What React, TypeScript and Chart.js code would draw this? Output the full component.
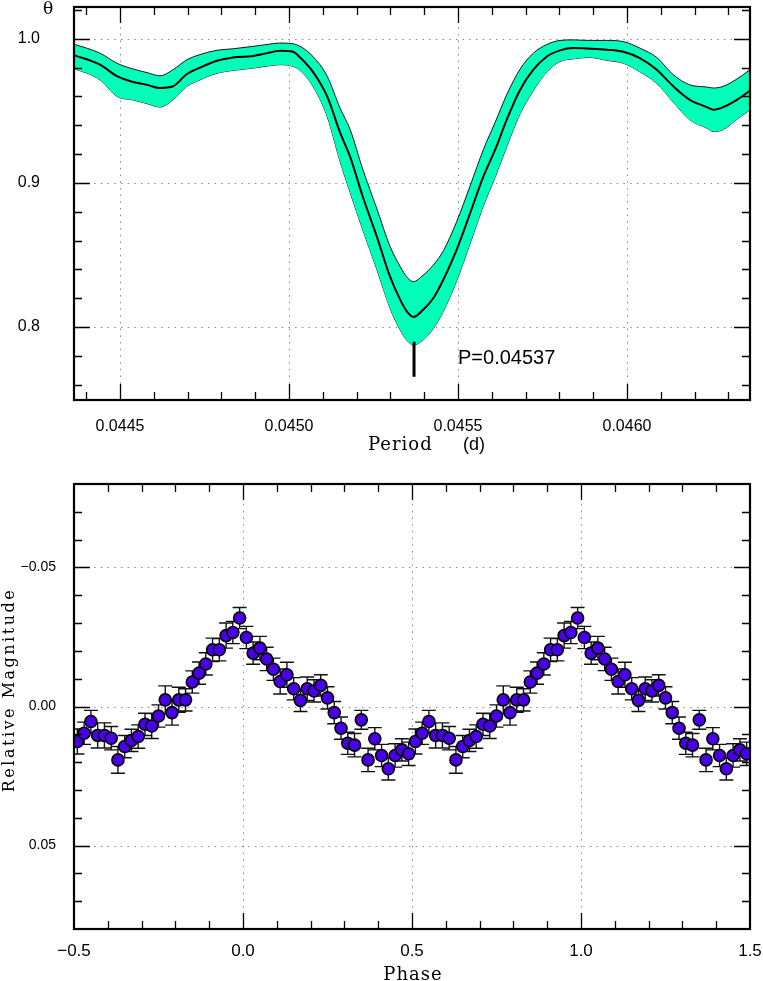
import React, { useEffect, useRef } from 'react';
import { Chart, registerables } from 'chart.js';

Chart.register(...registerables);

// ---------- Top panel: theta periodogram ----------
const periods = [
  0.04436, 0.044441, 0.044491, 0.044539, 0.04458, 0.044618, 0.044657, 0.044698, 0.044737, 0.044787,
  0.044834, 0.044894, 0.044935, 0.044973, 0.045012, 0.045033, 0.045071, 0.045113, 0.045151, 0.045181,
  0.045219, 0.04526, 0.045299, 0.045329, 0.045348, 0.045368, 0.045397, 0.045427, 0.045457, 0.045496,
  0.045536, 0.045575, 0.04561, 0.045644, 0.045684, 0.045723, 0.045763, 0.045802, 0.045841, 0.04589,
  0.04594, 0.045989, 0.046038, 0.046088, 0.046137, 0.046186, 0.046236, 0.046255, 0.046285, 0.046325,
  0.046364,
];
const thetaMid = [
  0.9889, 0.982, 0.974, 0.97, 0.968, 0.9658, 0.967, 0.9755, 0.98, 0.9847,
  0.987, 0.988, 0.99, 0.9917, 0.991, 0.987, 0.977, 0.96, 0.935, 0.918,
  0.89, 0.8627, 0.835, 0.819, 0.811, 0.807, 0.812, 0.82, 0.833, 0.8535,
  0.879, 0.9044, 0.923, 0.9437, 0.9646, 0.9785, 0.9877, 0.9919, 0.9935, 0.9931,
  0.9924, 0.991, 0.9866, 0.9785, 0.967, 0.9576, 0.9526, 0.9507, 0.9526, 0.9576,
  0.964,
];
const thetaUpper = [
  0.9965, 0.99, 0.983, 0.979, 0.9765, 0.9743, 0.9785, 0.9854, 0.989, 0.992,
  0.993, 0.9947, 0.996, 0.997, 0.9965, 0.9947, 0.9877, 0.974, 0.952, 0.937,
  0.909, 0.882, 0.856, 0.842, 0.835, 0.8315, 0.836, 0.843, 0.853, 0.873,
  0.898, 0.923, 0.942, 0.961, 0.979, 0.99, 0.996, 0.9988, 0.9992, 0.9988,
  0.9988, 0.998, 0.9935, 0.987, 0.975, 0.968, 0.9665, 0.9658, 0.967, 0.972,
  0.9785,
];
const thetaLower = [
  0.9797, 0.9715, 0.96, 0.9575, 0.955, 0.9526, 0.9576, 0.9669, 0.9715, 0.976,
  0.978, 0.9796, 0.981, 0.982, 0.9808, 0.978, 0.967, 0.946, 0.915, 0.8933,
  0.867, 0.84, 0.813, 0.798, 0.791, 0.7875, 0.791, 0.799, 0.811, 0.832,
  0.858, 0.884, 0.904, 0.925, 0.948, 0.964, 0.977, 0.9842, 0.986, 0.987,
  0.985, 0.983, 0.977, 0.969, 0.956, 0.9437, 0.938, 0.9356, 0.937, 0.944,
  0.9507,
];
const periodTicks = [0.0445, 0.045, 0.0455, 0.046];
const periodTickLabels = ['0.0445', '0.0450', '0.0455', '0.0460'];
const thetaTicks = [0.8, 0.9, 1.0];
const thetaTickLabels = ['0.8', '0.9', '1.0'];
const bestPeriod = 0.04537;
const bestPeriodLabel = 'P=0.04537';
const markerTheta = [0.7655, 0.7898];
const labelTheta = 0.7785;

// ---------- Bottom panel: phase-folded light curve ----------
const phases = [
  -0.49, -0.47, -0.45, -0.43, -0.41, -0.39, -0.37, -0.35, -0.33, -0.31,
  -0.29, -0.27, -0.25, -0.23, -0.21, -0.19, -0.17, -0.15, -0.13, -0.11,
  -0.09, -0.07, -0.05, -0.03, -0.01, 0.01, 0.03, 0.05, 0.07, 0.09,
  0.11, 0.13, 0.15, 0.17, 0.19, 0.21, 0.23, 0.25, 0.27, 0.29,
  0.31, 0.33, 0.35, 0.37, 0.39, 0.41, 0.43, 0.45, 0.47, 0.49,
];
const mags = [
  0.0126, 0.0096, 0.0054, 0.0104, 0.0104, 0.0114, 0.0192, 0.0144, 0.0122, 0.0108,
  0.0064, 0.007, 0.0034, -0.0024, 0.0022, -0.0024, -0.0024, -0.0088, -0.012, -0.0153,
  -0.0204, -0.0204, -0.0255, -0.0266, -0.0318, -0.0248, -0.0192, -0.021, -0.0171, -0.0134,
  -0.009, -0.0114, -0.0064, -0.0022, -0.0064, -0.0056, -0.0076, -0.0031, 0.0022, 0.0078,
  0.0132, 0.0139, 0.0048, 0.0192, 0.0116, 0.0176, 0.0224, 0.0176, 0.0156, 0.017,
];
const magErrors = [
  0.0045, 0.004, 0.004, 0.0045, 0.0045, 0.0042, 0.0048, 0.004, 0.004, 0.0042,
  0.004, 0.0045, 0.004, 0.005, 0.0045, 0.0045, 0.004, 0.004, 0.004, 0.004,
  0.0042, 0.004, 0.0045, 0.004, 0.0038, 0.004, 0.004, 0.0042, 0.0042, 0.004,
  0.0045, 0.0045, 0.004, 0.004, 0.0042, 0.004, 0.0038, 0.004, 0.004, 0.004,
  0.004, 0.0042, 0.0034, 0.0042, 0.004, 0.004, 0.004, 0.0042, 0.004, 0.0042,
];
const phaseTicks = [-0.5, 0, 0.5, 1.0, 1.5];
const phaseTickLabels = ['\u22120.5', '0.0', '0.5', '1.0', '1.5'];
const magTicks = [-0.05, 0, 0.05];
const magTickLabels = ['\u22120.05', '0.00', '0.05'];

const SANS = "'Liberation Sans', Arial, Helvetica, sans-serif";
const SERIF = "'DejaVu Serif', 'Liberation Serif', serif";
const BAND = '#00ffb8';
const DOT = '#4a00e6';

function range(k0: number, k1: number, div: number) {
  const out: number[] = [];
  for (let k = k0; k <= k1; k++) out.push(k / div);
  return out;
}
const near = (v: number, arr: number[]) => arr.some((a) => Math.abs(a - v) < 1e-9);

function drawGrid(chart: any, xMajor: number[], yMajor: number[]) {
  const ctx = chart.ctx;
  const { left, right, top, bottom } = chart.chartArea;
  const xs = chart.scales.x;
  const ys = chart.scales.y;
  ctx.save();
  ctx.strokeStyle = '#888';
  ctx.lineWidth = 1;
  ctx.setLineDash([1.5, 5.2]);
  ctx.beginPath();
  for (const v of xMajor) {
    const px = Math.round(xs.getPixelForValue(v)) + 0.5;
    if (px <= left + 2 || px >= right - 2) continue;
    ctx.moveTo(px, top);
    ctx.lineTo(px, bottom);
  }
  for (const v of yMajor) {
    const py = Math.round(ys.getPixelForValue(v)) + 0.5;
    if (py <= top + 2 || py >= bottom - 2) continue;
    ctx.moveTo(left, py);
    ctx.lineTo(right, py);
  }
  ctx.stroke();
  ctx.restore();
}

function drawFrame(chart: any, xMinor: number[], yMinor: number[], xMajor: number[], yMajor: number[]) {
  const ctx = chart.ctx;
  const { left, right, top, bottom } = chart.chartArea;
  const xs = chart.scales.x;
  const ys = chart.scales.y;
  ctx.save();
  ctx.setLineDash([]);
  ctx.strokeStyle = '#000';
  ctx.lineWidth = 1.3;
  ctx.beginPath();
  for (const v of xMinor) {
    const px = Math.round(xs.getPixelForValue(v)) + 0.5;
    const len = near(v, xMajor) ? 16 : 8;
    ctx.moveTo(px, bottom);
    ctx.lineTo(px, bottom - len);
    ctx.moveTo(px, top);
    ctx.lineTo(px, top + len);
  }
  for (const v of yMinor) {
    const py = Math.round(ys.getPixelForValue(v)) + 0.5;
    const len = near(v, yMajor) ? 16 : 8;
    ctx.moveTo(left, py);
    ctx.lineTo(left + len, py);
    ctx.moveTo(right, py);
    ctx.lineTo(right - len, py);
  }
  ctx.stroke();
  ctx.lineWidth = 2.2;
  ctx.strokeRect(left, top, right - left, bottom - top);
  ctx.restore();
}

function text(ctx: any, s: string, x: number, y: number, font: string, align: string, baseline: string, spacing = 0) {
  ctx.save();
  ctx.font = font;
  ctx.fillStyle = '#000';
  ctx.textAlign = align;
  ctx.textBaseline = baseline;
  if (spacing) ctx.letterSpacing = spacing + 'px';
  ctx.fillText(s, x, y);
  ctx.restore();
}

const fitAxis = (size: number, horizontal: boolean) => (s: any) => {
  if (horizontal) s.height = size;
  else s.width = size;
  s.paddingLeft = 0;
  s.paddingRight = 0;
  s.paddingTop = 0;
  s.paddingBottom = 0;
};

function topConfig(): any {
  const pts = (ys: number[]) => periods.map((p, i) => ({ x: p, y: ys[i] }));
  const xMinor = range(444, 463, 10000);
  const yMinor = range(38, 51, 50);
  const plugin = {
    id: 'topDecor',
    beforeDatasetsDraw(chart: any) {
      drawGrid(chart, periodTicks, thetaTicks);
    },
    afterDatasetsDraw(chart: any) {
      drawFrame(chart, xMinor, yMinor, periodTicks, thetaTicks);
      const ctx = chart.ctx;
      const { left, right, top, bottom } = chart.chartArea;
      const mid = (left + right) / 2;
      text(ctx, '\u03b8', left - 26, top + 3, '17px ' + SERIF, 'center', 'middle');
      text(ctx, 'Period', mid - 44, bottom + 50, '18px ' + SERIF, 'left', 'alphabetic', 1);
      text(ctx, '(d)', mid + 51, bottom + 50, '18px ' + SANS, 'left', 'alphabetic');
      const px = chart.scales.x.getPixelForValue(bestPeriod);
      const py = chart.scales.y.getPixelForValue(labelTheta);
      text(ctx, bestPeriodLabel, px + 44, py, '20px ' + SANS, 'left', 'middle');
    },
  };
  return {
    type: 'line',
    data: {
      // Chart.js paints the last dataset first: marker and mean line end on top.
      datasets: [
        {
          data: markerTheta.map((t) => ({ x: bestPeriod, y: t })),
          borderColor: '#000',
          borderWidth: 3,
          fill: false,
          pointRadius: 0,
        },
        {
          data: pts(thetaMid),
          borderColor: '#000',
          borderWidth: 2,
          fill: false,
          pointRadius: 0,
          cubicInterpolationMode: 'monotone',
        },
        {
          data: pts(thetaUpper),
          borderColor: '#000',
          borderWidth: 0.9,
          backgroundColor: BAND,
          fill: '+1',
          pointRadius: 0,
          cubicInterpolationMode: 'monotone',
        },
        {
          data: pts(thetaLower),
          borderColor: '#000',
          borderWidth: 0.9,
          fill: false,
          pointRadius: 0,
          cubicInterpolationMode: 'monotone',
        },
      ],
    },
    options: {
      responsive: false,
      animation: false,
      devicePixelRatio: 1,
      events: [],
      layout: { padding: { top: 7, right: 13, left: 0, bottom: 0 } },
      plugins: { legend: { display: false }, tooltip: { enabled: false } },
      scales: {
        x: {
          type: 'linear',
          min: 0.044364,
          max: 0.046364,
          grid: { display: false },
          border: { display: false },
          afterBuildTicks: (s: any) => {
            s.ticks = periodTicks.map((v) => ({ value: v }));
          },
          afterFit: fitAxis(70, true),
          ticks: {
            autoSkip: false,
            maxRotation: 0,
            padding: 9,
            color: '#000',
            font: { family: SANS, size: 16 },
            callback: (_v: any, i: number) => periodTickLabels[i],
          },
        },
        y: {
          type: 'linear',
          min: 0.7494,
          max: 1.022,
          grid: { display: false },
          border: { display: false },
          afterBuildTicks: (s: any) => {
            s.ticks = thetaTicks.map((v) => ({ value: v }));
          },
          afterFit: fitAxis(74, false),
          ticks: {
            padding: 26,
            color: '#000',
            font: { family: SANS, size: 16 },
            callback: (_v: any, i: number) => thetaTickLabels[i],
          },
        },
      },
    },
    plugins: [plugin],
  };
}

function bottomConfig(): any {
  const foldedPhase = [...phases, ...phases.map((p) => p + 1)];
  const foldedMag = [...mags, ...mags];
  const foldedErr = [...magErrors, ...magErrors];
  const xMinor = range(-4, 14, 10);
  const yMinor = range(-7, 7, 100);
  const plugin = {
    id: 'bottomDecor',
    beforeDatasetsDraw(chart: any) {
      drawGrid(chart, phaseTicks, magTicks);
      const ctx = chart.ctx;
      const { left, right, top, bottom } = chart.chartArea;
      const xs = chart.scales.x;
      const ys = chart.scales.y;
      ctx.save();
      ctx.beginPath();
      ctx.rect(left, top, right - left, bottom - top);
      ctx.clip();
      ctx.strokeStyle = '#111';
      ctx.lineWidth = 1.4;
      ctx.beginPath();
      foldedPhase.forEach((p, i) => {
        const px = xs.getPixelForValue(p);
        const y1 = ys.getPixelForValue(foldedMag[i] - foldedErr[i]);
        const y2 = ys.getPixelForValue(foldedMag[i] + foldedErr[i]);
        ctx.moveTo(px, y1);
        ctx.lineTo(px, y2);
        ctx.moveTo(px - 7, y1);
        ctx.lineTo(px + 7, y1);
        ctx.moveTo(px - 7, y2);
        ctx.lineTo(px + 7, y2);
      });
      ctx.stroke();
      ctx.restore();
    },
    afterDatasetsDraw(chart: any) {
      drawFrame(chart, xMinor, yMinor, phaseTicks, magTicks);
      const ctx = chart.ctx;
      const { left, right, top, bottom } = chart.chartArea;
      const mid = (left + right) / 2;
      text(ctx, 'Phase', mid + 1, bottom + 51, '18px ' + SERIF, 'center', 'alphabetic', 1);
      ctx.save();
      ctx.translate(left - 64.5, (top + bottom) / 2 - 16.5);
      ctx.rotate(-Math.PI / 2);
      text(ctx, 'Relative Magnitude', 0, 0, '16px ' + SERIF, 'center', 'middle', 2.5);
      ctx.restore();
    },
  };
  return {
    type: 'scatter',
    data: {
      datasets: [
        {
          data: foldedPhase.map((p, i) => ({ x: p, y: foldedMag[i] })),
          pointRadius: 6,
          pointBorderWidth: 1.6,
          pointBackgroundColor: DOT,
          pointBorderColor: '#000',
          showLine: false,
        },
      ],
    },
    options: {
      responsive: false,
      animation: false,
      devicePixelRatio: 1,
      events: [],
      layout: { padding: { top: 14, right: 13, left: 0, bottom: 0 } },
      plugins: { legend: { display: false }, tooltip: { enabled: false } },
      scales: {
        x: {
          type: 'linear',
          min: -0.5,
          max: 1.5,
          grid: { display: false },
          border: { display: false },
          afterBuildTicks: (s: any) => {
            s.ticks = phaseTicks.map((v) => ({ value: v }));
          },
          afterFit: fitAxis(52, true),
          ticks: {
            autoSkip: false,
            maxRotation: 0,
            padding: 4,
            color: '#000',
            font: { family: SANS, size: 17 },
            callback: (_v: any, i: number) => phaseTickLabels[i],
          },
        },
        y: {
          type: 'linear',
          min: -0.08,
          max: 0.08,
          reverse: true,
          grid: { display: false },
          border: { display: false },
          afterBuildTicks: (s: any) => {
            s.ticks = magTicks.map((v) => ({ value: v }));
          },
          afterFit: fitAxis(74, false),
          ticks: {
            padding: 10,
            color: '#000',
            font: { family: SANS, size: 14 },
            callback: (_v: any, i: number) => magTickLabels[i],
          },
        },
      },
    },
    plugins: [plugin],
  };
}

export default function App() {
  const topRef = useRef<HTMLCanvasElement>(null);
  const botRef = useRef<HTMLCanvasElement>(null);
  useEffect(() => {
    const c1 = new Chart(topRef.current as HTMLCanvasElement, topConfig());
    const c2 = new Chart(botRef.current as HTMLCanvasElement, bottomConfig());
    return () => {
      c1.destroy();
      c2.destroy();
    };
  }, []);
  return (
    <div style={{ position: 'absolute', left: 0, top: 0, width: 763, height: 981, background: '#fff' }}>
      <canvas ref={topRef} width={763} height={470} style={{ position: 'absolute', left: 0, top: 0, display: 'block' }} />
      <canvas ref={botRef} width={763} height={511} style={{ position: 'absolute', left: 0, top: 470, display: 'block' }} />
    </div>
  );
}
